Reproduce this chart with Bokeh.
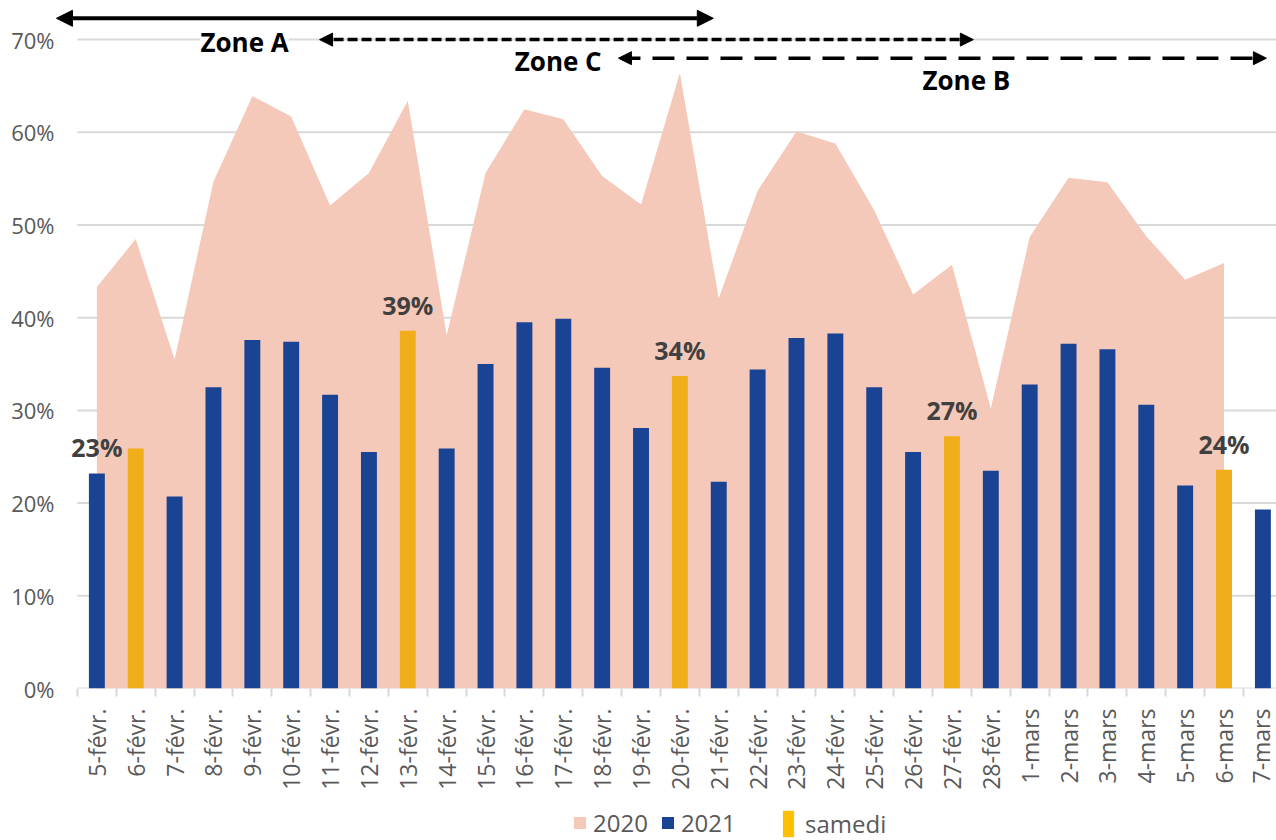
import numpy as np
from bokeh.plotting import figure
from bokeh.layouts import column
from bokeh.models import (Range1d, FixedTicker, PrintfTickFormatter, CustomJSTickFormatter,
                          Arrow, NormalHead, Label, LabelSet, Legend, LegendItem,
                          ColumnDataSource)
from bokeh.core.properties import value
from bokeh.embed import file_html
from bokeh.resources import INLINE

# ---------------- data ----------------
dates = ["5-févr.", "6-févr.", "7-févr.", "8-févr.", "9-févr.", "10-févr.", "11-févr.",
         "12-févr.", "13-févr.", "14-févr.", "15-févr.", "16-févr.", "17-févr.", "18-févr.",
         "19-févr.", "20-févr.", "21-févr.", "22-févr.", "23-févr.", "24-févr.", "25-févr.",
         "26-févr.", "27-févr.", "28-févr.", "1-mars", "2-mars", "3-mars", "4-mars",
         "5-mars", "6-mars", "7-mars"]
v2020 = [43.3, 48.5, 35.5, 54.7, 63.9, 61.7, 52.1, 55.6, 63.4, 38.1, 55.6, 62.5, 61.4, 55.3,
         52.2, 66.4, 42.1, 53.7, 60.1, 58.8, 51.6, 42.5, 45.7, 30.2, 48.7, 55.1, 54.6, 48.8,
         44.1, 45.9]
v2021 = [23.2, 25.9, 20.7, 32.5, 37.6, 37.4, 31.7, 25.5, 38.6, 25.9, 35.0, 39.5, 39.9, 34.6,
         28.1, 33.7, 22.3, 34.4, 37.8, 38.3, 32.5, 25.5, 27.2, 23.5, 32.8, 37.2, 36.6, 30.6,
         21.9, 23.6, 19.3]
samedis = ["6-févr.", "13-févr.", "20-févr.", "27-févr.", "6-mars"]
labelled = ["5-févr.", "13-févr.", "20-févr.", "27-févr.", "6-mars"]
y_ticks = [0, 10, 20, 30, 40, 50, 60, 70]
zones = ["Zone A", "Zone C", "Zone B"]

# ---------------- styles ----------------
FONT = "Open Sans"
C2020 = "#F5C9B9"
C2021 = "#1B4394"
CSAM = "#F2AE1A"
CSAM_LEG = "#FFC000"
GRID = "#D9D9D9"
TXT = "#595959"

xs = [i + 0.5 for i in range(len(dates))]
is_sam = [d in samedis for d in dates]


def bar_sources():
    b = ColumnDataSource(dict(x=[x for x, s in zip(xs, is_sam) if not s],
                              top=[v for v, s in zip(v2021, is_sam) if not s]))
    s_ = ColumnDataSource(dict(x=[x for x, s in zip(xs, is_sam) if s],
                               top=[v for v, s in zip(v2021, is_sam) if s]))
    return b, s_


p = figure(width=1276, height=805, output_backend="svg", toolbar_location=None,
           x_range=Range1d(-0.59, 30.85), y_range=Range1d(0, 74.22),
           min_border_left=54, min_border_right=0, min_border_top=0, min_border_bottom=117)
p.outline_line_color = None

# horizontal gridlines (start at the first category boundary, as in the original)
p.segment(x0=0, x1=len(dates), y0=y_ticks, y1=y_ticks, line_color=GRID, line_width=2)

area = p.varea(x=xs[:len(v2020)], y1=0, y2=v2020, fill_color=C2020)
src_b, src_s = bar_sources()
p.vbar(x="x", top="top", width=0.41, source=src_b, fill_color=C2021, line_color=None)
p.vbar(x="x", top="top", width=0.41, source=src_s, fill_color=CSAM, line_color=None)

lab_src = ColumnDataSource(dict(
    x=[xs[dates.index(d)] for d in labelled],
    y=[v2021[dates.index(d)] for d in labelled],
    t=[f"{round(v2021[dates.index(d)])}%" for d in labelled]))
p.add_layout(LabelSet(x="x", y="y", text="t", source=lab_src, text_align="center",
                      text_baseline="middle", y_offset=26, text_font=value(FONT),
                      text_font_style="bold", text_font_size="25px", text_color="#404040"))

# axes
p.xgrid.visible = False
p.ygrid.visible = False

p.yaxis.ticker = FixedTicker(ticks=y_ticks)
p.yaxis.formatter = PrintfTickFormatter(format="%d%%")
p.yaxis.axis_line_color = None
p.yaxis.major_tick_line_color = None
p.yaxis.minor_tick_line_color = None
p.yaxis.major_tick_out = 0
p.yaxis.major_label_standoff = 0
p.yaxis.major_label_text_font = FONT
p.yaxis.major_label_text_font_size = "22px"
p.yaxis.major_label_text_color = TXT

p.xaxis.ticker = FixedTicker(ticks=xs, minor_ticks=list(range(len(dates) + 1)))
p.xaxis.formatter = CustomJSTickFormatter(args=dict(labels=dates),
                                          code="return labels[Math.floor(tick)] || '';")
p.xaxis.major_label_orientation = np.pi / 2
p.xaxis.axis_line_color = None
p.xaxis.major_tick_line_color = None
p.xaxis.major_tick_out = 0
p.xaxis.minor_tick_line_color = GRID
p.xaxis.minor_tick_line_width = 2
p.xaxis.minor_tick_in = 0
p.xaxis.minor_tick_out = 8
p.xaxis.major_label_standoff = 12
p.xaxis.major_label_text_font = FONT
p.xaxis.major_label_text_font_size = "23px"
p.xaxis.major_label_text_color = TXT


# zone arrows
def head(sz):
    return NormalHead(size=sz, fill_color="black", line_color="black", line_width=1)


p.add_layout(Arrow(start=head(16), end=head(16), x_start=-0.54, y_start=72.3,
                   x_end=16.36, y_end=72.3, line_width=4, line_color="black"))
p.add_layout(Arrow(start=head(13), end=head(13), x_start=6.23, y_start=70.0,
                   x_end=23.05, y_end=70.0, line_width=3.5, line_color="black",
                   line_dash="10 4"))
p.add_layout(Arrow(start=head(13), end=head(13), x_start=13.92, y_start=68.0,
                   x_end=30.59, y_end=68.0, line_width=3.5, line_color="black",
                   line_dash="22 12"))

for txt, zx, zy in zip(zones, [4.30, 12.37, 22.87], [69.7, 67.7, 65.6]):
    p.add_layout(Label(x=zx, y=zy, text=txt, text_align="center", text_baseline="middle",
                       text_font=FONT, text_font_style="bold", text_font_size="26px",
                       text_color="black",
                       background_fill_color="white" if txt == "Zone A" else None))

# ---------------- legend strip ----------------
lf = figure(width=1276, height=35, output_backend="svg", toolbar_location=None,
            x_range=Range1d(-100, -99), y_range=Range1d(0, 1),
            x_axis_location=None, y_axis_location=None,
            min_border_left=0, min_border_right=0, min_border_top=0, min_border_bottom=0)
lf.outline_line_color = None
lf.grid.visible = False
lb, ls = bar_sources()
la = lf.varea(x=xs[:len(v2020)], y1=0, y2=v2020, fill_color=C2020)
lbr = lf.vbar(x="x", top="top", width=0.41, source=lb, fill_color=C2021, line_color=None)
lsr = lf.vbar(x="x", top="top", width=0.41, source=ls, fill_color=CSAM_LEG, line_color=None)

common = dict(orientation="horizontal", padding=0, margin=0, border_line_color=None,
              background_fill_alpha=0, label_text_font=FONT, label_text_font_size="24px",
              label_text_color=TXT)
leg1 = Legend(items=[LegendItem(label="2020", renderers=[la]),
                     LegendItem(label="2021", renderers=[lbr])],
              location=(518, 1), glyph_width=15, glyph_height=15, label_standoff=6,
              spacing=12, **common)
leg2 = Legend(items=[LegendItem(label="samedi", renderers=[lsr])],
              location=(727, 0), glyph_width=14, glyph_height=33, label_standoff=10,
              **common)
lf.add_layout(leg1)
lf.add_layout(leg2)

layout = column(p, lf, spacing=0)
open("out.html", "w").write(file_html(layout, INLINE))
